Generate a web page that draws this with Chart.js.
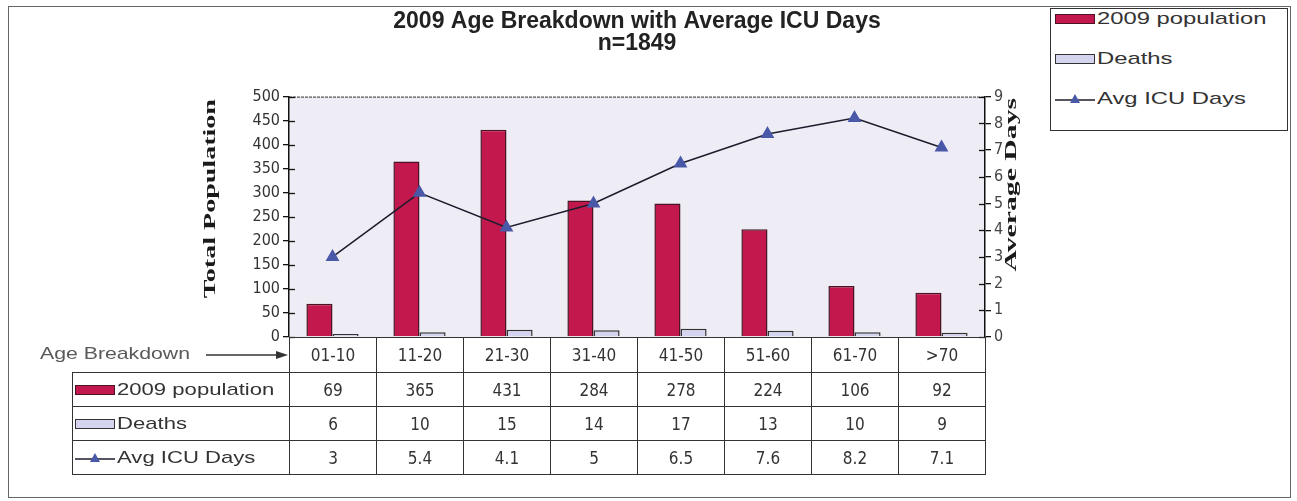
<!DOCTYPE html>
<html>
<head>
<meta charset="utf-8">
<script src="https://cdn.jsdelivr.net/npm/chart.js@4.4.1/dist/chart.umd.min.js"></script>
<style>
  html,body{margin:0;padding:0;background:#fff;}
  body{width:1297px;height:501px;overflow:hidden;position:relative;font-family:'Liberation Sans',Arial,sans-serif;color:#333;}
  #frame{position:absolute;left:8px;top:6px;width:1283px;height:492px;border:1px solid #666;box-sizing:border-box;}
  #wrap{position:absolute;left:0;top:0;width:1297px;height:501px;}
  #legend{position:absolute;left:1050px;top:8px;width:238px;height:123px;border:1px solid #333;box-sizing:border-box;background:#fff;}
  .lg{position:absolute;left:4px;height:20px;display:flex;align-items:center;font-size:17px;color:#333;white-space:nowrap;}
  .lg .tx{display:inline-block;transform:scaleX(1.4);transform-origin:left center;}
  .sw{display:inline-block;width:40px;height:10px;box-sizing:border-box;margin-right:2px;}
  .sw.pop{background:#c2184d;border:1px solid #4a1424;}
  .sw.dth{background:#d4d4ee;border:1.5px solid #333;}
  #tbl{position:absolute;border-collapse:collapse;table-layout:fixed;}
  #tbl td{border:1.5px solid #333;padding:0;text-align:center;font-family:'Liberation Sans Narrow','DejaVu Sans Condensed','Liberation Sans',sans-serif;font-size:17px;color:#333;overflow:hidden;white-space:nowrap;}
  #tbl td.lab{text-align:left;font-family:'Liberation Sans',Arial,sans-serif;font-size:17px;padding-left:2px;}
  #tbl td.lab .tx{display:inline-block;transform:scaleX(1.3);transform-origin:left center;}
  #tbl td.blank{border:none;}
  #age{position:absolute;left:40px;top:344px;font-size:17px;color:#5a5a5a;white-space:nowrap;transform:scale(1.25,1);transform-origin:left center;}
  #arrow{position:absolute;left:206px;top:349px;}
</style>
</head>
<body>
<div id="frame"></div>
<div id="wrap"><canvas id="c"></canvas></div>
<div id="legend"></div>
<div id="age">Age Breakdown</div>
<svg id="arrow" width="84" height="12"><line x1="0" y1="6" x2="72" y2="6" stroke="#333" stroke-width="1.3"/><polygon points="70,2 82,6 70,10" fill="#333"/></svg>
<table id="tbl"></table>
<script>
// ---- data ----
const categories = ['01-10','11-20','21-30','31-40','41-50','51-60','61-70','>70'];
const population2009 = [69, 365, 431, 284, 278, 224, 106, 92];
const deaths = [6, 10, 15, 14, 17, 13, 10, 9];
const avgIcuDays = [3, 5.4, 4.1, 5, 6.5, 7.6, 8.2, 7.1];
const seriesNames = ['2009 population', 'Deaths', 'Avg ICU Days'];
const titleLines = ['2009 Age Breakdown with Average ICU Days', 'n=1849'];
const axisTitles = ['Total Population', 'Average Days'];
const popAxisTicks = [0, 500, 50];   // min, max, step
const daysAxisTicks = [0, 9, 1];

const POP_COLOR = '#c2184d', POP_BORDER = '#4a1424';
const DTH_COLOR = '#d4d4ee', DTH_BORDER = '#333';
const LINE_COLOR = '#1c1c2c', MARK_COLOR = '#4a58a8';
const tickFont = {family:"'Liberation Sans Narrow','DejaVu Sans Condensed','Liberation Sans',sans-serif", size:16};

function stretchedTitle(ctx, text, x, y, sx){
  ctx.save();
  ctx.font = "bold 17px 'Liberation Serif', 'Times New Roman', serif";
  ctx.fillStyle = '#1a1a1a'; ctx.textAlign = 'center'; ctx.textBaseline = 'middle';
  ctx.translate(x, y);
  ctx.rotate(-Math.PI / 2);
  ctx.scale(sx, 1);
  ctx.fillText(text, 0, 0);
  ctx.restore();
}

const decor = {
  id:'decor',
  beforeDraw(c){
    const {ctx, chartArea:a} = c;
    ctx.save();
    ctx.fillStyle = '#eeedf5';
    ctx.fillRect(a.left, a.top, a.width, a.height);
    ctx.strokeStyle = '#555'; ctx.lineWidth = 1.2; ctx.setLineDash([3,1]);
    ctx.beginPath(); ctx.moveTo(a.left, a.top + 0.5); ctx.lineTo(a.right, a.top + 0.5); ctx.stroke();
    ctx.restore();
  },
  afterDraw(c){
    const {ctx, chartArea:a} = c;
    ctx.save();
    ctx.strokeStyle = '#111'; ctx.lineWidth = 1.3;
    [['y', a.left, 1], ['y1', a.right, -1]].forEach(([id, x, dir]) => {
      const s = c.scales[id];
      s.ticks.forEach((t, i) => {
        const y = Math.round(s.getPixelForTick(i)) + 0.5;
        ctx.beginPath(); ctx.moveTo(x, y); ctx.lineTo(x + dir * 6, y); ctx.stroke();
      });
    });
    ctx.restore();
    stretchedTitle(ctx, axisTitles[0], a.left - 78, a.top + 102, 1.65);
    stretchedTitle(ctx, axisTitles[1], a.right + 27, a.top + 88, 1.75);
  }
};

const chart = new Chart(document.getElementById('c'), {
  data: {
    labels: categories,
    datasets: [
      {type:'line', label: seriesNames[2], data: avgIcuDays, yAxisID:'y1', order:0,
       borderColor: LINE_COLOR, borderWidth:1.5, pointStyle:'triangle', pointRadius:6.5,
       pointBackgroundColor: MARK_COLOR, pointBorderColor: MARK_COLOR, tension:0},
      {type:'bar', label: seriesNames[0], data: population2009, yAxisID:'y', order:1,
       backgroundColor: POP_COLOR, borderColor: POP_BORDER, borderWidth:1.5,
       categoryPercentage:0.6, barPercentage:1.0},
      {type:'bar', label: seriesNames[1], data: deaths, yAxisID:'y', order:1,
       backgroundColor: DTH_COLOR, borderColor: DTH_BORDER, borderWidth:1.5,
       categoryPercentage:0.6, barPercentage:1.0}
    ]
  },
  options: {
    responsive:true, maintainAspectRatio:false, animation:false,
    layout:{padding:{left:201, right:272, top:0, bottom:164}},
    plugins:{
      legend:{display:false},
      tooltip:{enabled:false},
      title:{display:true, text:titleLines, fullSize:false, color:'#222',
             font:{family:"'Liberation Sans',Arial,sans-serif", size:23, weight:'bold', lineHeight:0.95},
             padding:{top:11, bottom:42}}
    },
    scales:{
      x:{display:false, offset:true},
      y:{position:'left', min:popAxisTicks[0], max:popAxisTicks[1],
         afterFit(s){ s.width = 88; },
         border:{display:true, color:'#111', width:1.5},
         grid:{drawOnChartArea:false, color:'#111', tickLength:6, lineWidth:1.3},
         ticks:{stepSize:popAxisTicks[2], autoSkip:false, font:tickFont, color:'#333', padding:3}},
      y1:{position:'right', min:daysAxisTicks[0], max:daysAxisTicks[1],
         afterFit(s){ s.width = 40; },
         border:{display:true, color:'#111', width:1.5},
         grid:{drawOnChartArea:false, color:'#111', tickLength:6, lineWidth:1.3},
         ticks:{stepSize:daysAxisTicks[2], autoSkip:false, font:tickFont, color:'#444', padding:3}}
    }
  },
  plugins:[decor]
});

// ---- legend (top right box) ----
function swatchHTML(k){
  if (k === 0) return '<span class="sw pop"></span>';
  if (k === 1) return '<span class="sw dth"></span>';
  return '<svg width="40" height="14" style="margin-right:2px"><line x1="0" y1="8" x2="40" y2="8" stroke="'+LINE_COLOR+'" stroke-width="1.3"/><polygon points="20,2 25,11 15,11" fill="'+MARK_COLOR+'"/></svg>';
}
const lg = document.getElementById('legend');
const lgTops = [0, 40, 80];
seriesNames.forEach((n, k) => {
  const d = document.createElement('div');
  d.className = 'lg'; d.style.top = lgTops[k] + 'px';
  d.innerHTML = swatchHTML(k) + '<span class="tx">' + n + '</span>';
  lg.appendChild(d);
});

// ---- data table aligned to the category scale ----
const a = chart.chartArea;
const colW = a.width / categories.length;
const tblLeft = 72;
const tbl = document.getElementById('tbl');
tbl.style.left = tblLeft + 'px';
tbl.style.top = a.bottom + 'px';
let html = '<colgroup><col style="width:' + (a.left - tblLeft) + 'px">';
categories.forEach(() => html += '<col style="width:' + colW + 'px">');
html += '</colgroup>';
html += '<tr style="height:35px"><td class="blank"></td>' + categories.map(c => '<td>' + c + '</td>').join('') + '</tr>';
[population2009, deaths, avgIcuDays].forEach((arr, k) => {
  html += '<tr style="height:34px"><td class="lab"><span style="display:flex;align-items:center">' + swatchHTML(k) + '<span class="tx">' + seriesNames[k] + '</span></span></td>' +
          arr.map(v => '<td>' + v + '</td>').join('') + '</tr>';
});
tbl.innerHTML = html;
tbl.style.width = (a.right - tblLeft) + 'px';
</script>
</body>
</html>
